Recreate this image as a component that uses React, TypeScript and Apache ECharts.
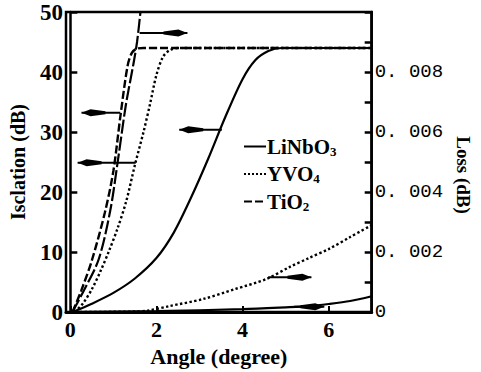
import React, { useEffect, useRef } from 'react';
import * as echarts from 'echarts';

// ---- data ----
const xLabelValues = [0, 2, 4, 6];
const legendNames = ['LiNbO3', 'YVO4', 'TiO2'];

// Isolation (dB), left axis
const linbo3IsoX = [0.05, 0.5, 1.0, 1.5, 2.0, 2.4, 2.8, 3.2, 3.6, 4.0, 4.3, 4.6, 4.9, 7];
const linbo3IsoY = [0, 1.4, 3.2, 5.6, 9.0, 13.2, 19.0, 25.5, 32.5, 38.8, 42.0, 43.5, 44, 44];
const yvo4IsoX = [0.1, 0.3, 0.5, 0.7, 0.9, 1.1, 1.3, 1.5, 1.7, 1.85, 2.0, 2.15, 2.3, 2.5, 7];
const yvo4IsoY = [0, 1.5, 3.8, 6.8, 10.2, 14, 18.5, 24.5, 30, 34.6, 39.5, 42.5, 43.6, 44, 44];
const tio2IsoX = [0.05, 0.25, 0.5, 0.8, 1.0, 1.17, 1.33, 1.43, 1.55, 1.7, 7];
const tio2IsoY = [0, 3.5, 8.6, 16.5, 23.5, 33, 41, 43.2, 43.9, 44, 44];

// Loss (dB), right axis
const linbo3LossX = [0, 2, 4, 5, 5.54, 6, 6.5, 7];
const linbo3LossY = [0, 0.00003, 0.0001, 0.00016, 0.0002, 0.00027, 0.00037, 0.00053];
const yvo4LossX = [0, 1.5, 1.8, 2.3, 3.07, 3.81, 4.55, 5.09, 5.54, 6.0, 6.5, 7.0];
const yvo4LossY = [0, 0.00002, 0.00005, 0.0002, 0.00043, 0.00076, 0.0011, 0.0015, 0.0018, 0.0021, 0.0025, 0.0029];
const tio2LossX = [0.05, 0.33, 0.66, 0.93, 1.11, 1.29, 1.47, 1.55, 1.63, 1.68];
const tio2LossY = [0, 0.00076, 0.00176, 0.0034, 0.0051, 0.0069, 0.0083, 0.009, 0.01, 0.0106];

// Arrows: [tip x, tail x, y]
const isoArrows = [
  [0.26, 1.16, 33.2],
  [0.17, 1.52, 24.9],
  [2.53, 3.52, 30.4],
];
const lossArrows = [
  [2.72, 1.61, 0.0093],
  [5.6, 4.6, 0.00116],
  [5.9, 5.2, 0.00018],
];

const zip = (xs: number[], ys: number[]) => xs.map((x, i) => [x, ys[i]]);

const SERIF = '"Liberation Serif", "DejaVu Serif", serif';
const MONO = '"Liberation Mono", "DejaVu Sans Mono", monospace';

function arrowRender(params: any, api: any) {
  const tip = api.coord([api.value(0), api.value(2)]);
  const tail = api.coord([api.value(1), api.value(2)]);
  const dir = tail[0] > tip[0] ? 1 : -1;
  const L = 24;
  return {
    type: 'group',
    children: [
      {
        type: 'line',
        shape: { x1: tip[0], y1: tip[1], x2: tail[0], y2: tail[1] },
        style: { stroke: '#000', lineWidth: 2 },
      },
      {
        type: 'polygon',
        shape: {
          points: [
            [tip[0], tip[1]],
            [tip[0] + dir * 9, tip[1] - 3.5],
            [tip[0] + dir * L, tip[1] - 1.5],
            [tip[0] + dir * L, tip[1] + 1.5],
            [tip[0] + dir * 9, tip[1] + 3.5],
          ],
        },
        style: { fill: '#000' },
      },
    ],
  };
}

export default function App() {
  const ref = useRef<HTMLDivElement>(null);
  useEffect(() => {
    if (!ref.current) return;
    const chart = echarts.init(ref.current, null, { renderer: 'svg' });
    const lineBase = {
      type: 'line',
      showSymbol: false,
      symbol: 'none',
      smooth: 0.3,
      color: '#000',
      silent: true,
    };
    const sub = (a: string, b: string) => `{a|${a}}{b|${b}}`;
    chart.setOption({
      animation: false,
      backgroundColor: '#fff',
      grid: {
        left: 66, right: 99, top: 12, bottom: 59,
        show: true, borderColor: '#000', borderWidth: 2.5, backgroundColor: 'transparent',
      },
      legend: {
        data: legendNames,
        orient: 'vertical',
        left: 238,
        top: 131,
        itemWidth: 22,
        itemHeight: 12,
        itemGap: 6,
        selectedMode: false,
        itemStyle: { opacity: 0, borderWidth: 0 },
        formatter: (n: string) => {
          if (n === 'LiNbO3') return sub('LiNbO', '3');
          if (n === 'YVO4') return sub('YVO', '4');
          return sub('TiO', '2');
        },
        textStyle: {
          color: '#000',
          fontFamily: SERIF,
          fontSize: 21,
          fontWeight: 'bold',
          padding: [0, 0, 0, -4],
          rich: {
            a: { fontFamily: SERIF, fontSize: 21, fontWeight: 'bold', color: '#000' },
            b: { fontFamily: SERIF, fontSize: 13, fontWeight: 'bold', color: '#000', padding: [9, 0, 0, 0] },
          },
        },
      },
      xAxis: {
        type: 'value',
        min: -0.1,
        max: 7,
        name: 'Angle (degree)',
        nameLocation: 'middle',
        nameGap: 31,
        nameTextStyle: { fontFamily: SERIF, fontSize: 22, fontWeight: 'bold', color: '#000' },
        axisLine: { show: true, onZero: false, lineStyle: { color: '#000', width: 3 } },
        axisTick: { show: true, inside: true, length: 6, customValues: xLabelValues, lineStyle: { color: '#000', width: 2 } },
        axisLabel: {
          customValues: xLabelValues,
          fontFamily: SERIF, fontSize: 22, fontWeight: 'bold', color: '#000', margin: 6,
        },
        splitLine: { show: false },
      },
      yAxis: [
        {
          type: 'value',
          min: 0,
          max: 50,
          interval: 10,
          name: 'Isclation (dB)',
          nameLocation: 'middle',
          nameGap: 38,
          nameTextStyle: { fontFamily: SERIF, fontSize: 20, fontWeight: 'bold', color: '#000' },
          axisLine: { show: true, lineStyle: { color: '#000', width: 2.5 } },
          axisTick: { show: true, inside: true, length: 7, lineStyle: { color: '#000', width: 2.5 } },
          axisLabel: { fontFamily: SERIF, fontSize: 23, fontWeight: 'bold', color: '#000', margin: 3 },
          splitLine: { show: false },
        },
        {
          type: 'value',
          position: 'right',
          min: 0,
          max: 0.01,
          interval: 0.001,
          name: 'Loss (dB)',
          nameLocation: 'middle',
          nameRotate: -90,
          nameGap: 76,
          nameTextStyle: { fontFamily: SERIF, fontSize: 19, fontWeight: 'bold', color: '#000', padding: [0, 0, 0, 26] },
          axisLine: { show: true, lineStyle: { color: '#000', width: 2.5 } },
          axisTick: { show: true, inside: true, length: 7, lineStyle: { color: '#000', width: 2.5 } },
          axisLabel: {
            fontFamily: MONO, fontSize: 19, color: '#000', margin: 3,
            formatter: (v: number) => {
              const k = Math.round(v * 1000);
              if (k === 0) return '0';
              if (k % 2 === 0 && k < 10) return '0. 00' + k;
              return '';
            },
          },
          splitLine: { show: false },
        },
      ],
      series: [
        { ...lineBase, name: 'LiNbO3', yAxisIndex: 0, data: zip(linbo3IsoX, linbo3IsoY), lineStyle: { color: '#000', width: 2.2, type: 'solid' } },
        { ...lineBase, name: 'YVO4', yAxisIndex: 0, data: zip(yvo4IsoX, yvo4IsoY), lineStyle: { color: '#000', width: 2.4, type: 'dotted' } },
        { ...lineBase, name: 'TiO2', yAxisIndex: 0, data: zip(tio2IsoX, tio2IsoY), lineStyle: { color: '#000', width: 2.4, type: [8, 3] } },
        { ...lineBase, name: 'LiNbO3 loss', yAxisIndex: 1, data: zip(linbo3LossX, linbo3LossY), lineStyle: { color: '#000', width: 2.2, type: 'solid' } },
        { ...lineBase, name: 'YVO4 loss', yAxisIndex: 1, data: zip(yvo4LossX, yvo4LossY), lineStyle: { color: '#000', width: 2.4, type: 'dotted' } },
        { ...lineBase, name: 'TiO2 loss', yAxisIndex: 1, data: zip(tio2LossX, tio2LossY), lineStyle: { color: '#000', width: 2.2, type: [14, 3] } },
        {
          type: 'custom', name: 'iso arrows', yAxisIndex: 0, silent: true,
          renderItem: arrowRender, encode: { x: [0, 1], y: 2 }, data: isoArrows,
        },
        {
          type: 'custom', name: 'loss arrows', yAxisIndex: 1, silent: true,
          renderItem: arrowRender, encode: { x: [0, 1], y: 2 }, data: lossArrows,
        },
      ],
    });
    return () => chart.dispose();
  }, []);
  return (
    <div
      ref={ref}
      style={{ position: 'fixed', left: 0, top: 0, width: 481, height: 372, background: '#fff' }}
    />
  );
}
